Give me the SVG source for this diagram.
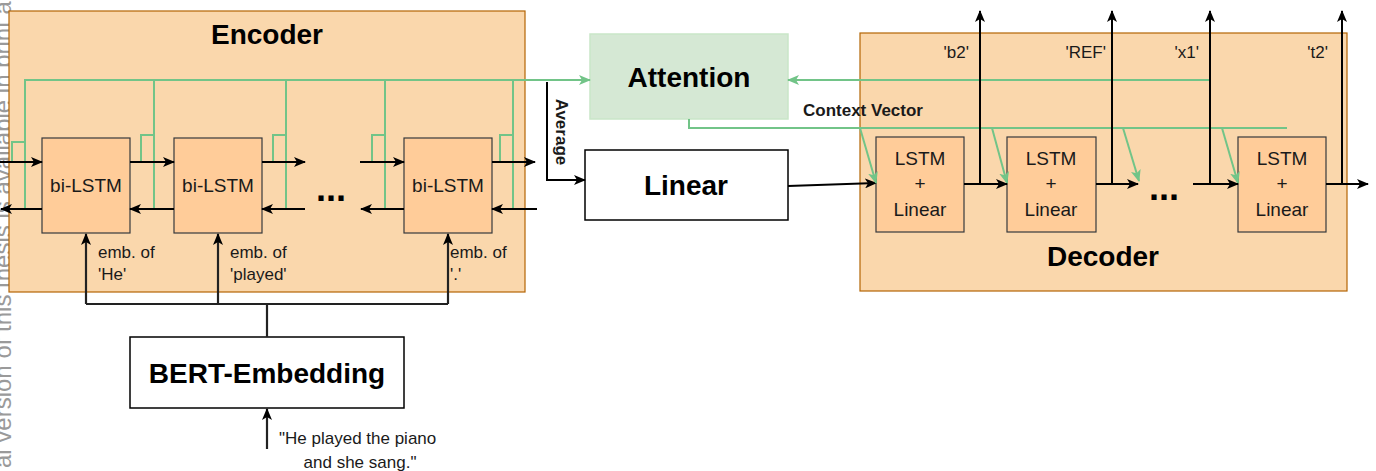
<svg xmlns="http://www.w3.org/2000/svg" width="1376" height="471" viewBox="0 0 1376 471">
<style>
.cont{fill:#fad7ac;stroke:#b46504;stroke-width:1.2}
.cell{fill:#ffcc99;stroke:#36393d;stroke-width:1.2}
.plain{fill:#ffffff;stroke:#000000;stroke-width:1.5}
.att{fill:#d5e8d4;stroke:#c9e6c8;stroke-width:1.5}
.title{font-family:"Liberation Sans",Arial,sans-serif;font-weight:bold;font-size:28px;fill:#000;text-anchor:middle}
.lbl{font-family:"Liberation Sans",Arial,sans-serif;font-size:19px;fill:#1a1a1a;text-anchor:middle}
.sm{font-family:"Liberation Sans",Arial,sans-serif;font-size:17px;fill:#1a1a1a}
.bsm{font-family:"Liberation Sans",Arial,sans-serif;font-size:17px;font-weight:bold;fill:#1a1a1a}
.dots{font-family:"Liberation Sans",Arial,sans-serif;font-size:36px;font-weight:bold;fill:#000}
.blk{fill:none;stroke:#000;stroke-width:2}
.dk{fill:none;stroke:#222;stroke-width:2.2}
.grn{fill:none;stroke:#72c488;stroke-width:2}
.wm{font-family:"Liberation Sans",Arial,sans-serif;font-size:24px;fill:#9a9a9a}
</style>
<defs>
<marker id="ab" viewBox="0 0 12 10" refX="11" refY="5" markerWidth="12" markerHeight="10" orient="auto" markerUnits="userSpaceOnUse"><path d="M0,0 L12,5 L0,10 L3,5 z" fill="#000"/></marker>
<marker id="ag" viewBox="0 0 12 10" refX="11" refY="5" markerWidth="12" markerHeight="10" orient="auto" markerUnits="userSpaceOnUse"><path d="M0,0 L12,5 L0,10 L3,5 z" fill="#72c488"/></marker>
</defs>
<rect width="1376" height="471" fill="#ffffff"/>
<text class="wm" transform="translate(11,468) rotate(-90)">al version of this thesis is available in print at</text>

<g id="encoder">
<rect class="cont" x="9" y="11" width="516" height="281"/>
<text class="title" x="267" y="44">Encoder</text>
</g>
<g id="decoder">
<rect class="cont" x="860" y="33" width="487" height="258"/>
<text class="title" x="1103" y="266">Decoder</text>
</g>
<g id="attention">
<rect class="att" x="590" y="34" width="198" height="85"/>
<text class="title" x="689" y="87">Attention</text>
</g>
<g id="linear">
<rect class="plain" x="585" y="150" width="203" height="70"/>
<text class="title" x="686" y="195">Linear</text>
</g>
<g id="bert">
<rect class="plain" x="130" y="337" width="274" height="71"/>
<text class="title" x="267" y="383">BERT-Embedding</text>
</g>
<g id="bilstm1">
<rect class="cell" x="42" y="138" width="88" height="95"/>
<text class="lbl" x="86" y="192">bi-LSTM</text>
</g>
<g id="bilstm2">
<rect class="cell" x="174" y="138" width="88" height="95"/>
<text class="lbl" x="218" y="192">bi-LSTM</text>
</g>
<g id="bilstm3">
<rect class="cell" x="404" y="138" width="88" height="95"/>
<text class="lbl" x="448" y="192">bi-LSTM</text>
</g>
<g id="dec1">
<rect class="cell" x="876" y="137" width="88" height="95"/>
<text class="lbl" x="920" y="165">LSTM</text>
<text class="lbl" x="920" y="190">+</text>
<text class="lbl" x="920" y="216">Linear</text>
</g>
<g id="dec2">
<rect class="cell" x="1007" y="137" width="89" height="95"/>
<text class="lbl" x="1051" y="165">LSTM</text>
<text class="lbl" x="1051" y="190">+</text>
<text class="lbl" x="1051" y="216">Linear</text>
</g>
<g id="dec3">
<rect class="cell" x="1238" y="137" width="88" height="95"/>
<text class="lbl" x="1282" y="165">LSTM</text>
<text class="lbl" x="1282" y="190">+</text>
<text class="lbl" x="1282" y="216">Linear</text>
</g>

<g id="connectors">
<path class="grn" d="M25,209 V80 H590" marker-end="url(#ag)"/>
<path class="grn" d="M12,162 V142 H25"/>
<path class="grn" d="M154,209 V80"/>
<path class="grn" d="M141,162 V135 H154"/>
<path class="grn" d="M286,209 V80"/>
<path class="grn" d="M273,162 V135 H286"/>
<path class="grn" d="M385,209 V80"/>
<path class="grn" d="M372,162 V135 H385"/>
<path class="grn" d="M513,209 V80"/>
<path class="grn" d="M500,162 V135 H513"/>
<path class="blk" d="M0,162 H42" marker-end="url(#ab)"/>
<path class="blk" d="M42,209 H1" marker-end="url(#ab)"/>
<path class="blk" d="M130,162 H174" marker-end="url(#ab)"/>
<path class="blk" d="M174,209 H130" marker-end="url(#ab)"/>
<path class="blk" d="M262,162 H305" marker-end="url(#ab)"/>
<path class="blk" d="M305,209 H262" marker-end="url(#ab)"/>
<path class="blk" d="M360,162 H404" marker-end="url(#ab)"/>
<path class="blk" d="M404,209 H361" marker-end="url(#ab)"/>
<path class="blk" d="M492,162 H535" marker-end="url(#ab)"/>
<path class="blk" d="M537,209 H492" marker-end="url(#ab)"/>
<text class="dots" x="316" y="201">...</text>
<path class="blk" d="M547,82 V180 H585" marker-end="url(#ab)"/>
<text class="bsm" transform="translate(556,132) rotate(90)" text-anchor="middle" font-size="18.5">Average</text>
<path class="blk" d="M788,186 L876,183" marker-end="url(#ab)"/>
<path class="grn" d="M1210,80 H788" marker-end="url(#ag)"/>
<path class="grn" d="M689,119 V128 H1287"/>
<text class="bsm" x="803" y="116">Context Vector</text>
<path class="grn" d="M860,128 L876,183" marker-end="url(#ag)"/>
<path class="grn" d="M992,128 L1007,183" marker-end="url(#ag)"/>
<path class="grn" d="M1123,128 L1139,181" marker-end="url(#ag)"/>
<path class="grn" d="M1222,128 L1238,183" marker-end="url(#ag)"/>
<path class="blk" d="M964,184 H1007" marker-end="url(#ab)"/>
<path class="blk" d="M980,184 V11" marker-end="url(#ab)"/>
<path class="blk" d="M1096,184 H1138" marker-end="url(#ab)"/>
<path class="blk" d="M1112,184 V11" marker-end="url(#ab)"/>
<path class="blk" d="M1193,184 H1238" marker-end="url(#ab)"/>
<path class="blk" d="M1210,184 V11" marker-end="url(#ab)"/>
<path class="blk" d="M1326,184 H1368" marker-end="url(#ab)"/>
<path class="blk" d="M1342,184 V11" marker-end="url(#ab)"/>
<text class="dots" x="1149" y="200">...</text>
<text class="sm" x="969" y="58" text-anchor="end">'b2'</text>
<text class="sm" x="1106" y="58" text-anchor="end">'REF'</text>
<text class="sm" x="1199" y="58" text-anchor="end">'x1'</text>
<text class="sm" x="1328" y="58" text-anchor="end">'t2'</text>
<path class="dk" d="M267,337 V304"/>
<path class="dk" d="M86,304 H448"/>
<path class="dk" d="M86,304 V234" marker-end="url(#ab)"/>
<path class="dk" d="M218,304 V234" marker-end="url(#ab)"/>
<path class="dk" d="M448,304 V234" marker-end="url(#ab)"/>
<text class="sm" x="98" y="258">emb. of</text>
<text class="sm" x="98" y="280">'He'</text>
<text class="sm" x="230" y="258">emb. of</text>
<text class="sm" x="230" y="280">'played'</text>
<text class="sm" x="450" y="258">emb. of</text>
<text class="sm" x="450" y="280">'.'</text>
<path class="dk" d="M267,449 V409" marker-end="url(#ab)"/>
<text class="sm" x="279" y="444">"He played the piano</text>
<text class="sm" x="360" y="468" text-anchor="middle">and she sang."</text>
</g>
</svg>
